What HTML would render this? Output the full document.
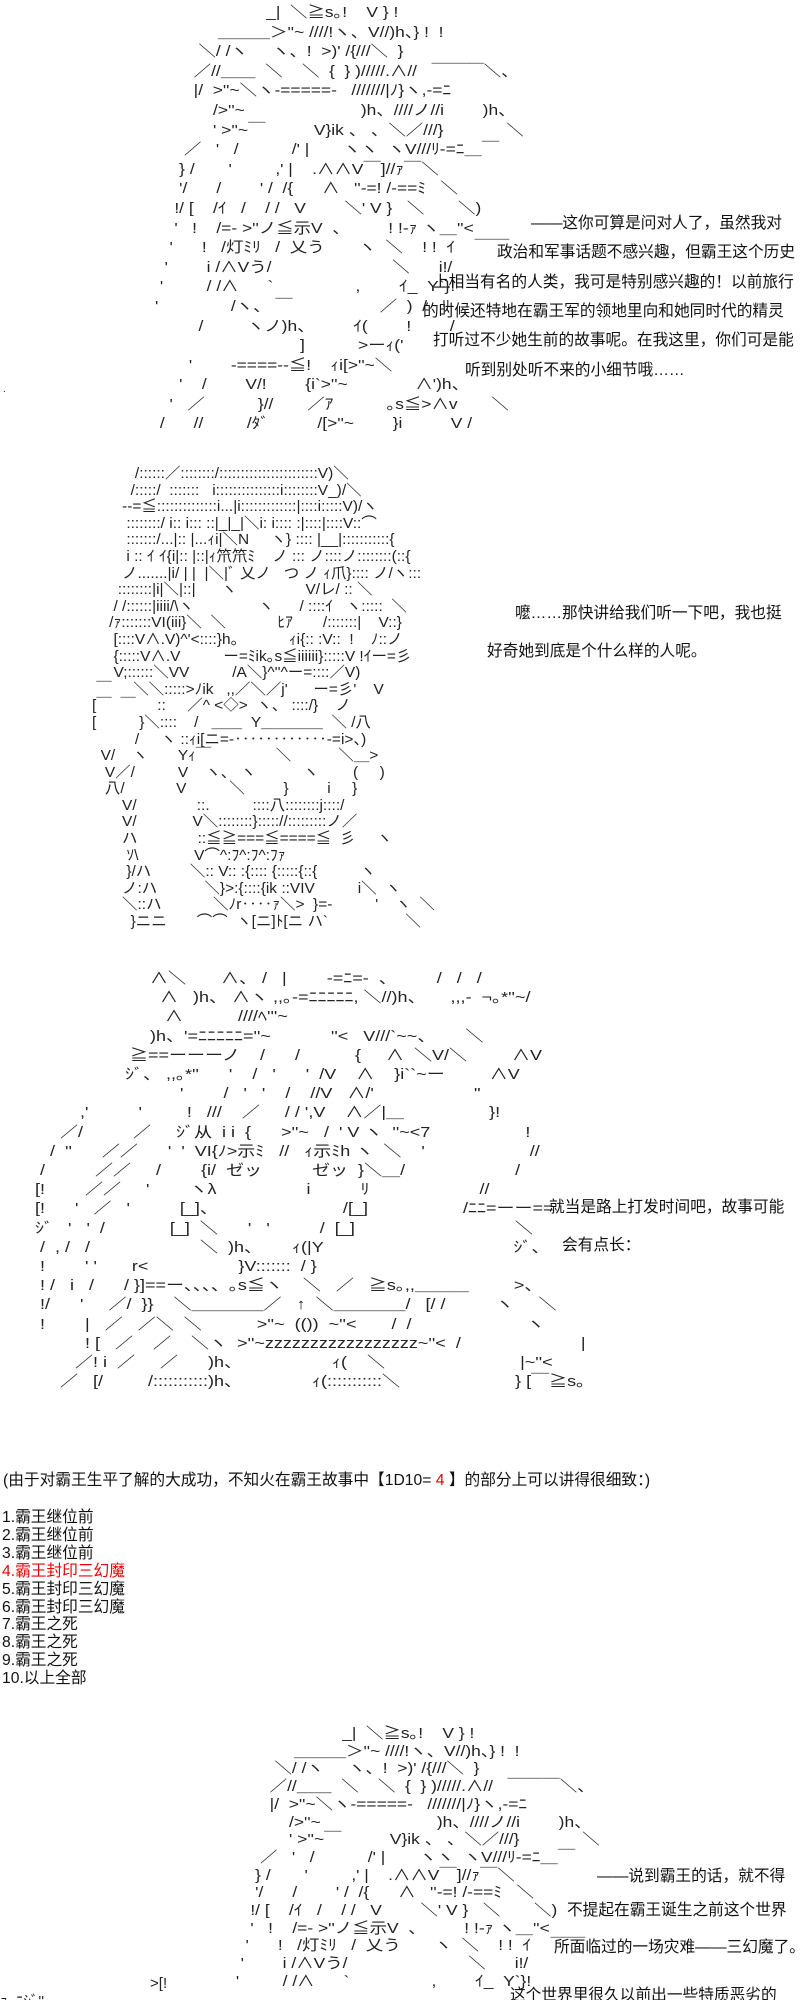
<!DOCTYPE html>
<html><head><meta charset="utf-8">
<style>
html,body{margin:0;padding:0;background:#fff;width:800px;height:2000px;overflow:hidden;position:relative}
pre{position:absolute;margin:0;font-family:"Liberation Sans","Noto Sans CJK JP",sans-serif;font-size:15px;color:#222;white-space:pre;transform-origin:0 0}
.t{position:absolute;font-family:"Liberation Sans","Noto Sans CJK SC",sans-serif;font-size:15.7px;color:#111;white-space:nowrap;line-height:20px}
.r{color:#e00}
</style></head><body>

<pre style="left:155px;top:3px;line-height:19.6px;transform:scaleX(1.16)">                       _|  ＼≧s｡!    V } !
             ＿＿＿＞''~ ////!ヽ、V//)h、} !  !
         ＼/ /ヽ     ヽ、!  >)' /{///＼  }
        ／//＿＿  ＼    ＼  {  } )/////.∧//   ￣￣￣＼、
        |/  >''~＼ヽ-=====-   ///////|ﾉ}ヽ,-=ﾆ
            />''~                        )h、////ノ//i        )h、
            ' >''~￣          V}ik 、 、＼／///}             ＼
      ／   '   /           /' |       ヽヽ  ヽV///ﾘ-=ﾆ＿￣
     } /       '         ,' |    .∧∧V￣]//ｧ￣＼
     '/      /        ' /  /{      ∧   ''-=! /-==ﾐ   ＼
    !/ [    /ｲ   /    / /   V        ＼' V }   ＼       ＼)
    '   !    /=- >''ノ≦示V  、        ! !-ｧ ヽ＿''<
   '      !   /灯ﾐﾘ   /  乂う       ヽ  ＼    ! !  ｲ    ￣￣
  '        i /∧Vう/                         ＼      i!/
 '         / /∧      `                 ,        ｲ_  Y`}!
'               /ヽ、 ￣                  ／  )  /   ﾘ
         /         ヽノ)h、        ｲ(        !        /
                              ]           >ーｨ('
       '        -====--≦!    ｨi[>''~＼
     '    /        V/!        {i`>''~              ∧')h、
   '   ／           }//       ／ｱ           ｡s≦>∧v       ＼
 /      //         /ﾀﾞ          /[>''~        }i          V /</pre>

<div class="t" style="left:531px;top:214px">——这你可算是问对人了，虽然我对</div>
<div class="t" style="left:497px;top:243px">政治和军事话题不感兴趣，但霸王这个历史</div>
<div class="t" style="left:433px;top:273px">上相当有名的人类，我可是特别感兴趣的！以前旅行</div>
<div class="t" style="left:423px;top:302px">的时候还特地在霸王军的领地里向和她同时代的精灵</div>
<div class="t" style="left:433px;top:331px">打听过不少她生前的故事呢。在我这里，你们可是能</div>
<div class="t" style="left:465px;top:361px">听到别处听不来的小细节哦……</div>
<div class="t" style="left:3px;top:380px;font-size:10px">.</div>

<pre style="left:92px;top:466px;line-height:16.6px;transform:scaleX(1.03)">          /::::::／::::::::/:::::::::::::::::::::::V)＼
         /:::::/  :::::::   i:::::::::::::::i::::::::V_)/＼
       --=≦::::::::::::::i...|i:::::::::::::|::::i:::::V)/ヽ
        ::::::::/ i:: i::: ::|_|_|＼i: i:::: :|::::|::::V::⌒
        :::::::/...|:: |...ｨi|＼N     ヽ} :::: |__|:::::::::::{
        i :: ｲ ｲ{i|:: |::|ｨ笊笊ﾐ    ノ ::: ノ::::ノ::::::::(::{
       ノ.......|i/ | |  |＼|ﾞ 乂ノ   つ ノ ｨ爪}:::: ノ/ヽ:::
      ::::::::|i|＼|::|      ヽ                V/レ/ :: ＼
     / /::::::|iiii/\ヽ               ヽ      / ::::ｲ   ヽ:::::  ＼
    /ｧ:::::::VI(iii}＼  ＼            ﾋｱ       /:::::::|    V::}
     [::::V∧.V)^'<::::}h。          ｨi{:: :V::  !    ﾉ::ノ
     {:::::V∧.V          ー=ﾐik｡s≦iiiiii}:::::V !ｲー=彡
     V;::::::＼VV          /A＼}^''^ー=::::／V)
 ￣     ＼＼:::::>ﾉik   ,,／＼／j'      ー=彡'    V
[￣  ￣     ::     ／^ <◇>  ヽ、 ::::/}    ノ
[          }＼::::    /   ＿＿  Y＿＿＿＿  ＼ /八
          /     ヽ ::ｨi[ニ=-‥‥‥‥‥‥-=i>、)
  V/    ヽ       Yｨ￣               ＼           ＼＿>
   V／/          V    ヽ、 ヽ           ヽ        (     )
   八/            V          ＼         }         i     }
       V/              ::.          ::::八::::::::j::::/
       V/             V＼::::::::}::::://:::::::::ノ／
       ハ              ::≦≧===≦====≦  彡     ヽ
        ｿ\             V⌒^:ﾌ^:ﾌ^:ﾌｧ
        }/ハ         ＼:: V:: :{:::: {:::::{::{          ヽ
       ノ:ハ           ＼}>:{::::{ik ::VIV          i＼  ヽ
       ＼::ハ            ＼ﾉr‥‥ｧ＼>  }=-          '    ヽ  ＼
         }ニニ       ⌒⌒  ヽ[ニ]ﾄ[ニ ハ`                  ＼</pre>

<div class="t" style="left:515px;top:604px">嚒……那快讲给我们听一下吧，我也挺</div>
<div class="t" style="left:487px;top:642px">好奇她到底是个什么样的人呢。</div>

<pre style="left:20px;top:969px;line-height:19.2px;transform:scaleX(1.2)">                          ∧＼       ∧、 /   |        -=ﾆ=-  、        /   /   /
                            ∧   )h、 ∧ヽ ,,｡-=ﾆﾆﾆﾆﾆ, ＼//)h、     ,,,-  ¬｡*''~/
                             ∧           ////ﾍ'<//!ヽ Y|/////,  ''''           /
                               ∧   ///＿＿＿∧    ＼|  }/ }///////ヽ＿>''~
                          )h、'<!/   ///ヽ  >=ﾆﾆﾆﾆﾆ=<//////|＿＿＼
                              )h、      '//  ／         /   ヽ≦=ーー=≧s｡
                      ＿＿＿＿ﾆ!/    ／ >''~            ''<   V///`~~、      ＼
                      ≧==ーーーノ    /      /           {     ∧  ＼V/＼         ∧V
                     ｼﾞ、 ,,｡*''      '    /   '      '  /V    ∧    }i``~ー         ∧V
                                '        /   '   '    /    //V   ∧/'                    ''
            ,'          '         !   ///    ／     / / ',V    ∧／|＿                 }!
        ／/          ／     ｼﾞ从  i i  {      >''~   /  ' V ヽ  ''~<7                   !
      /  ''      ／／      '  '  VI{ﾉ>示ﾐ   //   ｨ示ﾐh ヽ  ＼    '                     //
    /          ／／     /        {i/  ゼッ          ゼッ  }＼＿/                      /
   [!        ／／     '        ヽλ                  i          ﾘ                      //
   [!      '   ／   '          [_]、                         /[_]                   /ﾆﾆ=ーー==
   ｼﾞ   '   '  /             [_]  ＼      '   '          /  [_]                                ＼
    /  , /   /                      ＼  )h、      ｨ(|Y                                      ｼﾞ、
    !        ' '       r<                  }V:::::::  / }
    ! /   i   /      / }]==ー、、、、｡s≦ヽ    ＼   ／   ≧s｡,,＿＿＿         >、
    !/      '     ／/  }}    ＼＿＿＿＿／   ↑  ＼＿＿＿＿/   [/ /          ヽ     ＼
    !        |   ／   ／＼  ＼           >''~  (())  ~''<       /  /                       ヽ
             ! [   ／    ／    ＼ヽ  >''~zzzzzzzzzzzzzzzzz~''<  /                        |
           ／! i  ／     ／      )h、                  ｨ(    ＼                           |~''<
        ／   [/         /:::::::::::)h、              ｨ(:::::::::::＼                       } [￣≧s｡</pre>

<div class="t" style="left:549px;top:1198px">就当是路上打发时间吧，故事可能</div>
<div class="t" style="left:562px;top:1236px">会有点长：</div>

<div class="t" style="left:3px;top:1471px">(由于对霸王生平了解的大成功，不知火在霸王故事中【1D10= <span class="r">4</span> 】的部分上可以讲得很细致：)</div>

<div class="t" style="left:2px;top:1509px;font-size:15.7px;line-height:17.9px">1.霸王继位前<br>2.霸王继位前<br>3.霸王继位前<br><span class="r">4.霸王封印三幻魔</span><br>5.霸王封印三幻魔<br>6.霸王封印三幻魔<br>7.霸王之死<br>8.霸王之死<br>9.霸王之死<br>10.以上全部</div>

<pre style="left:231px;top:1725px;line-height:17.7px;transform:scaleX(1.16)">                       _|  ＼≧s｡!    V } !
             ＿＿＿＞''~ ////!ヽ、V//)h、} !  !
         ＼/ /ヽ     ヽ、!  >)' /{///＼  }
        ／//＿＿  ＼    ＼  {  } )/////.∧//   ￣￣￣＼、
        |/  >''~＼ヽ-=====-   ///////|ﾉ}ヽ,-=ﾆ
            />''~                        )h、////ノ//i        )h、
            ' >''~￣          V}ik 、 、＼／///}             ＼
      ／   '   /           /' |       ヽヽ  ヽV///ﾘ-=ﾆ＿￣
     } /       '         ,' |    .∧∧V￣]//ｧ￣＼
     '/      /        ' /  /{      ∧   ''-=! /-==ﾐ   ＼
    !/ [    /ｲ   /    / /   V        ＼' V }   ＼       ＼)
    '   !    /=- >''ノ≦示V  、        ! !-ｧ ヽ＿''<
   '      !   /灯ﾐﾘ   /  乂う       ヽ  ＼    ! !  ｲ    ￣￣
  '        i /∧Vう/                         ＼      i!/
 '         / /∧      `                 ,        ｲ_  Y`}!</pre>
<pre style="left:0px;top:1975px;line-height:17.7px">                                    >[!
ｧ  ﾆｼﾞ''</pre>

<div class="t" style="left:597px;top:1867px">——说到霸王的话，就不得</div>
<div class="t" style="left:567px;top:1901px">不提起在霸王诞生之前这个世界</div>
<div class="t" style="left:554px;top:1938px">所面临过的一场灾难——三幻魔了。</div>
<div class="t" style="left:510px;top:1986px">这个世界里很久以前出一些特质恶劣的</div>

</body></html>
